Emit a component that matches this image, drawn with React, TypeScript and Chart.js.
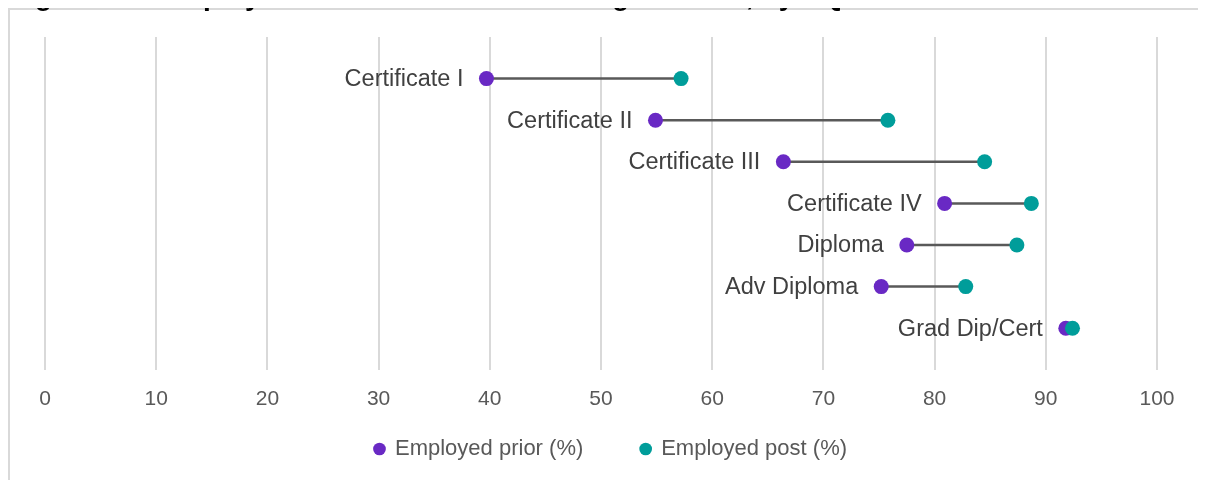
import React, { useEffect, useRef } from "react";
import { Chart, registerables } from "chart.js";

Chart.register(...registerables);

const TITLE = "Figure 2.2: Employment rate for 2019-20 VET graduates, by AQF level";
const categories = [
  "Certificate I",
  "Certificate II",
  "Certificate III",
  "Certificate IV",
  "Diploma",
  "Adv Diploma",
  "Grad Dip/Cert",
];
const employedPrior = [39.7, 54.9, 66.4, 80.9, 77.5, 75.2, 91.8];
const employedPost = [57.2, 75.8, 84.5, 88.7, 87.4, 82.8, 92.4];
const xTicks = [0, 10, 20, 30, 40, 50, 60, 70, 80, 90, 100];
const seriesNames = ["Employed prior (%)", "Employed post (%)"];

const PURPLE = "#6929c4";
const TEAL = "#009d9a";
const FONT = "Arial, 'Liberation Sans', sans-serif";
const LEGEND_GAP = "        ";

const labelPlugin = {
  id: "rowLabels",
  afterDatasetsDraw(chart: any) {
    const { ctx, scales } = chart;
    const xs = scales.x;
    const ys = scales.y;
    ctx.save();
    ctx.font = `23.5px ${FONT}`;
    ctx.fillStyle = "#404040";
    ctx.textAlign = "right";
    ctx.textBaseline = "middle";
    categories.forEach((c, i) => {
      const x = xs.getPixelForValue(employedPrior[i]) - 23;
      const y = ys.getPixelForValue(i + 1);
      ctx.fillText(c, x, y + 1);
    });
    ctx.restore();
  },
};

export default function App() {
  const ref = useRef<HTMLCanvasElement | null>(null);
  useEffect(() => {
    document.documentElement.style.overflow = "hidden";
    if (!ref.current) return;
    const connectorSets: any[] = categories.map((c, i) => ({
      label: "connector " + c,
      data: [
        { x: employedPrior[i], y: i + 1 },
        { x: employedPost[i], y: i + 1 },
      ],
      showLine: true,
      borderColor: "#595959",
      backgroundColor: "#595959",
      borderWidth: 2.5,
      pointRadius: 0,
      order: 3,
    }));
    const chart = new Chart(ref.current, {
      type: "scatter",
      data: {
        datasets: [
          {
            label: seriesNames[0],
            data: employedPrior.map((v, i) => ({ x: v, y: i + 1 })),
            backgroundColor: PURPLE,
            borderColor: PURPLE,
            borderWidth: 0,
            pointRadius: 7.5,
            pointStyle: "circle",
            order: 2,
          },
          {
            label: seriesNames[1],
            data: employedPost.map((v, i) => ({ x: v, y: i + 1 })),
            backgroundColor: TEAL,
            borderColor: TEAL,
            borderWidth: 0,
            pointRadius: 7.5,
            pointStyle: "circle",
            order: 1,
          },
          ...connectorSets,
        ],
      },
      options: {
        responsive: false,
        animation: false,
        layout: { padding: { left: 35, right: 29, top: 27, bottom: 10 } },
        plugins: {
          tooltip: { enabled: false },
          legend: {
            position: "bottom",
            labels: {
              usePointStyle: true,
              boxWidth: 9,
              boxHeight: 9,
              padding: 9,
              color: "#595959",
              font: { size: 22, family: FONT },
              filter: (item: any) => item.datasetIndex < 2,
              sort: (a: any, b: any) => a.datasetIndex - b.datasetIndex,
              generateLabels: (chart: any) => {
                const items = Chart.defaults.plugins.legend.labels.generateLabels(chart);
                return items.map((it: any) =>
                  it.datasetIndex === 0 ? { ...it, text: it.text + LEGEND_GAP } : it
                );
              },
            },
          },
        },
        scales: {
          x: {
            type: "linear",
            min: 0,
            max: 100,
            afterBuildTicks: (s: any) => {
              s.ticks = xTicks.map((v) => ({ value: v }));
            },
            grid: { color: "#d9d9d9", lineWidth: 2, drawTicks: false },
            border: { display: false },
            ticks: {
              color: "#595959",
              padding: 17,
              font: { size: 21, family: FONT },
            },
          },
          y: {
            type: "linear",
            min: 0,
            max: 8,
            reverse: true,
            display: false,
          },
          yRight: {
            type: "linear",
            position: "right",
            display: true,
            grid: { display: false },
            border: { display: false },
            ticks: { display: false },
            afterFit: (s: any) => {
              s.width = 20;
            },
          },
        },
      },
      plugins: [labelPlugin],
    });
    return () => chart.destroy();
  }, []);

  return (
    <div style={{ position: "relative" }}>
      <div
        style={{
          position: "absolute",
          left: 2,
          top: -26,
          font: `bold 28px ${FONT}`,
          lineHeight: "28px",
          whiteSpace: "nowrap",
          color: "#000",
        }}
      >
        {TITLE}
      </div>
      <div
        style={{
          borderTop: "2px solid #d9d9d9",
          borderLeft: "2px solid #d9d9d9",
          width: 1196,
          height: 470,
          overflow: "hidden",
        }}
      >
        <canvas ref={ref} width={1196} height={470} style={{ display: "block" }} />
      </div>
    </div>
  );
}
